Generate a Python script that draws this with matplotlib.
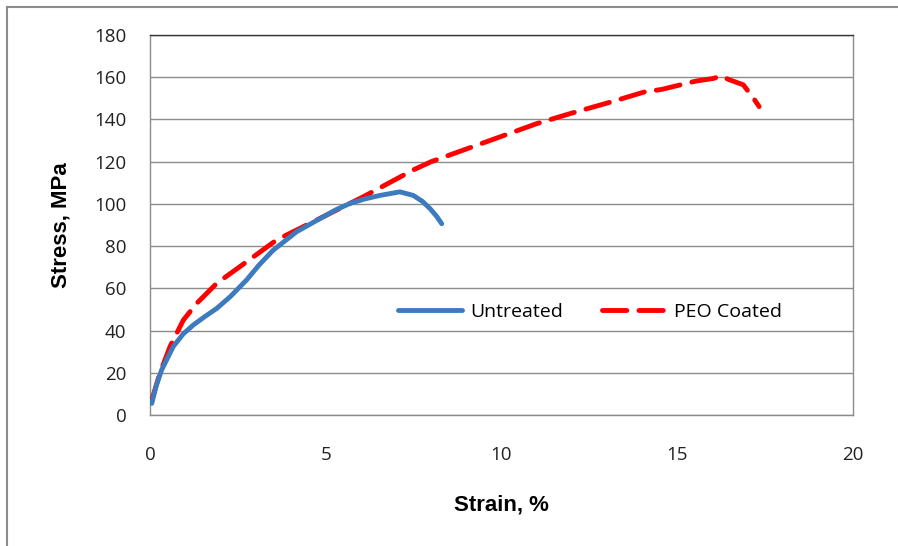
import matplotlib.pyplot as plt
from matplotlib.lines import Line2D

# Untreated specimen
untreated_strain = [0.05, 0.18, 0.33, 0.66, 0.95, 1.23, 1.55, 1.9, 2.28, 2.75,
                    3.1, 3.5, 4.17, 4.93, 5.3, 5.69, 6.1, 6.54, 7.11, 7.49,
                    7.75, 7.97, 8.15, 8.3]
untreated_stress = [5.5, 14.0, 21.3, 32.4, 38.5, 42.6, 46.5, 50.5, 56.0, 64.0,
                    71.0, 78.0, 86.8, 93.9, 97.3, 100.2, 102.3, 104.0, 105.7,
                    104.0, 101.2, 97.7, 94.2, 90.6]

# PEO coated specimen
peo_strain = [0.05, 0.28, 0.57, 0.95, 1.33, 1.9, 2.56, 3.6, 5.12, 6.07, 7.48,
              8.0, 9.0, 10.0, 11.0, 12.0, 13.14, 14.08, 14.55, 15.54, 16.02,
              16.26, 16.45, 16.88, 17.2, 17.33]
peo_stress = [7.0, 19.7, 32.4, 45.0, 52.9, 62.4, 70.3, 82.9, 95.5, 103.4, 116.0,
              120.0, 126.0, 132.0, 138.0, 143.0, 148.4, 153.1, 154.2, 158.2,
              159.4, 160.6, 159.0, 156.4, 149.3, 146.1]

x_ticks = [0, 5, 10, 15, 20]
y_ticks = list(range(0, 181, 20))


def main():
    fig = plt.figure(figsize=(8.98, 5.46), dpi=100)
    ax = fig.add_axes([150 / 898, 131 / 546, 703 / 898, 380 / 546])

    ax.plot(peo_strain, peo_stress, color='#ff0000', lw=3.5,
            dashes=(5, 2.5), solid_capstyle='round', dash_capstyle='round',
            label='PEO Coated', zorder=3)
    ax.plot(untreated_strain, untreated_stress, color='#3d7bbf', lw=3.5,
            solid_capstyle='round', solid_joinstyle='round',
            label='Untreated', zorder=4)

    ax.set_xlim(0, 20)
    ax.set_ylim(0, 180)
    ax.set_xticks(x_ticks)
    ax.set_yticks(y_ticks)
    ax.yaxis.grid(True, color='#8c8c8c', lw=1)
    ax.set_axisbelow(True)
    for s in ax.spines.values():
        s.set_color('#8c8c8c')
        s.set_linewidth(1)
    ax.spines['top'].set_color('#333333')
    ax.tick_params(length=0, labelsize=13.5, colors='#222222')
    ax.tick_params(axis='x', pad=22)
    ax.tick_params(axis='y', pad=17)
    for lab in ax.get_xticklabels() + ax.get_yticklabels():
        lab.set_family('Open Sans')

    ax.set_xlabel('Strain, %', fontsize=16, fontweight='bold',
                  family='Liberation Sans', labelpad=22)
    ax.set_ylabel('Stress, MPa', fontsize=16, fontweight='bold',
                  family='Liberation Sans', labelpad=16)

    handles = [
        Line2D([], [], color='#3d7bbf', lw=3.5, solid_capstyle='round'),
        Line2D([], [], color='#ff0000', lw=3.5, dashes=(5, 2.5),
               dash_capstyle='round'),
    ]
    ax.legend(handles, ['Untreated', 'PEO Coated'], loc='center',
              bbox_to_anchor=(590 / 898, 1 - 312 / 546),
              bbox_transform=fig.transFigure, ncol=2, frameon=False,
              prop={'family': 'Open Sans', 'size': 14}, handlelength=3.3,
              columnspacing=2.0, handletextpad=0.4)

    # outer chart border (left and top only visible)
    fig.add_artist(Line2D([7 / 898, 7 / 898], [0, 1 - 7 / 546],
                          transform=fig.transFigure, color='#8c8c8c', lw=1.5))
    fig.add_artist(Line2D([7 / 898, 1], [1 - 7 / 546, 1 - 7 / 546],
                          transform=fig.transFigure, color='#8c8c8c', lw=1.5))

    fig.savefig('out.png', dpi=100)


if __name__ == '__main__':
    main()
